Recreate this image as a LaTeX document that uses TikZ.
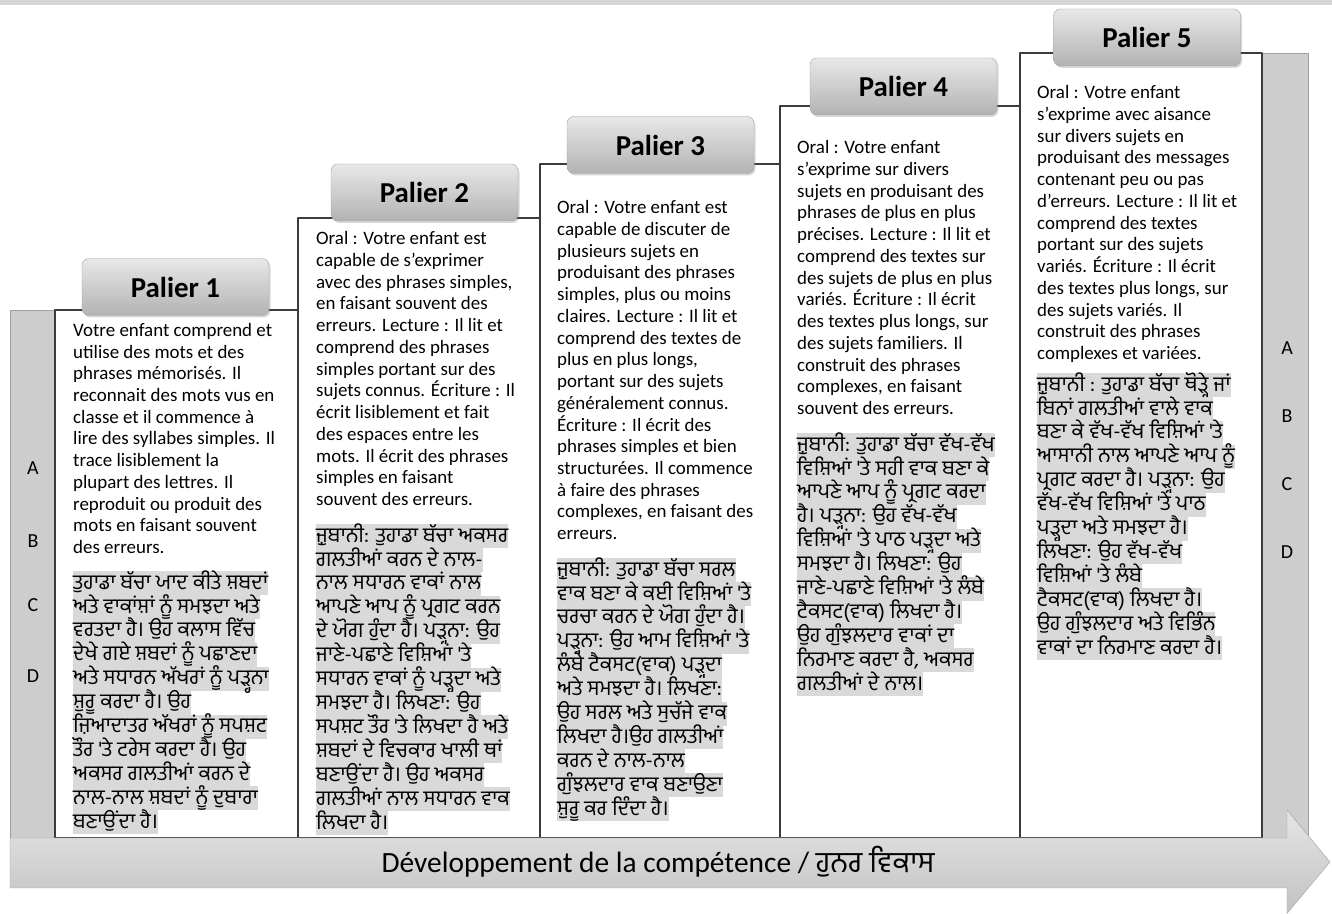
\documentclass[tikz,border=0pt]{standalone}
\usepackage{fontspec}
\setmainfont{Carlito}
\newfontfamily\pafont[Script=Gurmukhi]{Hind Jalandhar}
\usetikzlibrary{shadows}
\definecolor{hlgrey}{HTML}{D9D9D9}
\definecolor{bargrey}{HTML}{CDCDCD}
\definecolor{edgegrey}{HTML}{A0A0A0}
\definecolor{boxline}{HTML}{3C3C3C}
\setlength{\fboxsep}{0pt}
\newcommand{\hlrow}[1]{\colorbox{hlgrey}{\rule[-6pt]{0pt}{24pt}\raisebox{0pt}[14pt][4pt]{#1}}}
\begin{document}
\begin{tikzpicture}[>=latex,line join=bevel,
  colbox/.style={draw=boxline,fill=white,line width=1.1bp,inner sep=0pt},
  sidebar/.style={draw=edgegrey,fill=bargrey,inner sep=0pt},
  palier/.style={draw=edgegrey,rounded corners=7bp,top color=black!9,bottom color=black!30,
    drop shadow={opacity=0.3,shadow xshift=1.5bp,shadow yshift=-2bp},
    minimum width=187bp,minimum height=57bp,font=\fontsize{29}{32}\selectfont\bfseries},
  frtext/.style={anchor=north west,inner sep=0pt,align=left,font=\fontsize{19}{21.8}\selectfont},
  patext/.style={anchor=north west,inner sep=0pt,align=left,font=\pafont\fontsize{21}{24}\selectfont},
  abcd/.style={font=\fontsize{20}{22}\selectfont},
]
\useasboundingbox (0bp,0bp) rectangle (1332bp,914bp);
\fill[black!16] (0bp,909bp) rectangle (1332bp,914bp);
%%
\node (bar_left) at (32.5bp,340bp) [sidebar,minimum width=45bp,minimum height=528bp] {};
  \node (bar_right) at (1285bp,468.5bp) [sidebar,minimum width=46bp,minimum height=785bp] {};
  \node (col_1) at (176.5bp,340bp) [colbox,minimum width=243bp,minimum height=528bp] {};
  \node (col_2) at (419bp,386bp) [colbox,minimum width=242bp,minimum height=620bp] {};
  \node (col_3) at (660bp,413bp) [colbox,minimum width=240bp,minimum height=674bp] {};
  \node (col_4) at (900bp,442bp) [colbox,minimum width=240bp,minimum height=732bp] {};
  \node (col_5) at (1141bp,468.5bp) [colbox,minimum width=242bp,minimum height=785bp] {};
%
\node (palier_1) at (175.5bp,627bp) [palier] {Palier 1};
  \node (palier_2) at (424.5bp,721.5bp) [palier] {Palier 2};
  \node (palier_3) at (660.5bp,769bp) [palier] {Palier 3};
  \node (palier_4) at (903.5bp,827.5bp) [palier] {Palier 4};
  \node (palier_5) at (1147bp,876.5bp) [palier] {Palier 5};
%
\node (left_a) at (33bp,446bp) [abcd] {A};
  \node (left_b) at (33bp,373bp) [abcd] {B};
  \node (left_c) at (33bp,309bp) [abcd] {C};
  \node (left_d) at (33bp,238bp) [abcd] {D};
  \node (right_a) at (1287bp,566bp) [abcd] {A};
  \node (right_b) at (1287bp,498bp) [abcd] {B};
  \node (right_c) at (1287bp,430bp) [abcd] {C};
  \node (right_d) at (1287bp,362bp) [abcd] {D};
%
\node (fr_1) at (73bp,591bp) [frtext] {Votre enfant comprend et\\utilise des mots et des\\phrases mémorisés. Il\\reconnait des mots vus en\\classe et  il commence à\\lire des syllabes simples. Il\\trace lisiblement la\\plupart des lettres. Il\\reproduit ou produit des\\mots en faisant souvent\\des erreurs.};
  \node (fr_2) at (316bp,682.5bp) [frtext] {Oral : Votre enfant est\\capable de s’exprimer\\avec des phrases simples,\\en faisant souvent des\\erreurs. Lecture : Il lit et\\comprend des phrases\\simples portant sur des\\sujets connus. Écriture : Il\\écrit lisiblement et  fait\\des espaces entre les\\mots. Il écrit des phrases\\simples en faisant\\souvent des erreurs.};
  \node (fr_3) at (557bp,713.5bp) [frtext] {Oral : Votre enfant est\\capable de discuter de\\plusieurs sujets en\\produisant des phrases\\simples, plus ou moins\\claires. Lecture :  Il lit et\\comprend des textes  de\\plus en  plus longs,\\portant sur des sujets\\généralement connus.\\Écriture : Il écrit des\\phrases simples et  bien\\structurées. Il commence\\à faire des phrases\\complexes, en faisant des\\erreurs.};
  \node (fr_4) at (797bp,773.5bp) [frtext] {Oral : Votre enfant\\s’exprime sur divers\\sujets en  produisant des\\phrases de plus en plus\\précises. Lecture :  Il lit et\\comprend des textes  sur\\des sujets de plus en plus\\variés. Écriture : Il écrit\\des textes  plus longs, sur\\des sujets familiers. Il\\construit des phrases\\complexes, en faisant\\souvent des erreurs.};
  \node (fr_5) at (1037bp,828.5bp) [frtext] {Oral : Votre enfant\\s’exprime avec aisance\\sur divers sujets en\\produisant des messages\\contenant peu ou pas\\d’erreurs. Lecture : Il lit et\\comprend des textes\\portant sur des sujets\\variés. Écriture : Il écrit\\des textes  plus longs, sur\\des sujets variés. Il\\construit des phrases\\complexes et  variées.};
%
\node (pa_1) at (73bp,343bp) [patext] {\hlrow{ਤੁਹਾਡਾ ਬੱਚਾ ਯਾਦ ਕੀਤੇ ਸ਼ਬਦਾਂ}\\\hlrow{ਅਤੇ ਵਾਕਾਂਸ਼ਾਂ ਨੂੰ ਸਮਝਦਾ ਅਤੇ}\\\hlrow{ਵਰਤਦਾ ਹੈ। ਉਹ ਕਲਾਸ ਵਿੱਚ}\\\hlrow{ਦੇਖੇ ਗਏ ਸ਼ਬਦਾਂ ਨੂੰ ਪਛਾਣਦਾ}\\\hlrow{ਅਤੇ ਸਧਾਰਨ ਅੱਖਰਾਂ ਨੂੰ ਪੜ੍ਹਨਾ}\\\hlrow{ਸ਼ੁਰੂ ਕਰਦਾ ਹੈ। ਉਹ}\\\hlrow{ਜ਼ਿਆਦਾਤਰ ਅੱਖਰਾਂ ਨੂੰ ਸਪਸ਼ਟ}\\\hlrow{ਤੌਰ 'ਤੇ ਟਰੇਸ ਕਰਦਾ ਹੈ। ਉਹ}\\\hlrow{ਅਕਸਰ ਗਲਤੀਆਂ ਕਰਨ ਦੇ}\\\hlrow{ਨਾਲ-ਨਾਲ ਸ਼ਬਦਾਂ ਨੂੰ ਦੁਬਾਰਾ}\\\hlrow{ਬਣਾਉਂਦਾ ਹੈ।}};
  \node (pa_2) at (316bp,390bp) [patext] {\hlrow{ਜ਼ੁਬਾਨੀ: ਤੁਹਾਡਾ ਬੱਚਾ ਅਕਸਰ}\\\hlrow{ਗਲਤੀਆਂ ਕਰਨ ਦੇ ਨਾਲ-}\\\hlrow{ਨਾਲ ਸਧਾਰਨ ਵਾਕਾਂ ਨਾਲ}\\\hlrow{ਆਪਣੇ ਆਪ ਨੂੰ ਪ੍ਰਗਟ ਕਰਨ}\\\hlrow{ਦੇ ਯੋਗ ਹੁੰਦਾ ਹੈ। ਪੜ੍ਹਨਾ: ਉਹ}\\\hlrow{ਜਾਣੇ-ਪਛਾਣੇ ਵਿਸ਼ਿਆਂ 'ਤੇ}\\\hlrow{ਸਧਾਰਨ ਵਾਕਾਂ ਨੂੰ ਪੜ੍ਹਦਾ ਅਤੇ}\\\hlrow{ਸਮਝਦਾ ਹੈ। ਲਿਖਣਾ: ਉਹ}\\\hlrow{ਸਪਸ਼ਟ ਤੌਰ 'ਤੇ ਲਿਖਦਾ ਹੈ ਅਤੇ}\\\hlrow{ਸ਼ਬਦਾਂ ਦੇ ਵਿਚਕਾਰ ਖਾਲੀ ਥਾਂ}\\\hlrow{ਬਣਾਉਂਦਾ ਹੈ। ਉਹ ਅਕਸਰ}\\\hlrow{ਗਲਤੀਆਂ ਨਾਲ ਸਧਾਰਨ ਵਾਕ}\\\hlrow{ਲਿਖਦਾ ਹੈ।}};
  \node (pa_3) at (557bp,356bp) [patext] {\hlrow{ਜ਼ੁਬਾਨੀ: ਤੁਹਾਡਾ ਬੱਚਾ ਸਰਲ}\\\hlrow{ਵਾਕ ਬਣਾ ਕੇ ਕਈ ਵਿਸ਼ਿਆਂ 'ਤੇ}\\\hlrow{ਚਰਚਾ ਕਰਨ ਦੇ ਯੋਗ ਹੁੰਦਾ ਹੈ।}\\\hlrow{ਪੜ੍ਹਨਾ: ਉਹ ਆਮ ਵਿਸ਼ਿਆਂ 'ਤੇ}\\\hlrow{ਲੰਬੇ ਟੈਕਸਟ(ਵਾਕ) ਪੜ੍ਹਦਾ}\\\hlrow{ਅਤੇ ਸਮਝਦਾ ਹੈ। ਲਿਖਣਾ:}\\\hlrow{ਉਹ ਸਰਲ ਅਤੇ ਸੁਚੱਜੇ ਵਾਕ}\\\hlrow{ਲਿਖਦਾ ਹੈ।ਉਹ ਗਲਤੀਆਂ}\\\hlrow{ਕਰਨ ਦੇ ਨਾਲ-ਨਾਲ}\\\hlrow{ਗੁੰਝਲਦਾਰ ਵਾਕ ਬਣਾਉਣਾ}\\\hlrow{ਸ਼ੁਰੂ ਕਰ ਦਿੰਦਾ ਹੈ।}};
  \node (pa_4) at (797bp,481bp) [patext] {\hlrow{ਜ਼ੁਬਾਨੀ: ਤੁਹਾਡਾ ਬੱਚਾ ਵੱਖ-ਵੱਖ}\\\hlrow{ਵਿਸ਼ਿਆਂ 'ਤੇ ਸਹੀ ਵਾਕ  ਬਣਾ ਕੇ}\\\hlrow{ਆਪਣੇ ਆਪ ਨੂੰ ਪ੍ਰਗਟ ਕਰਦਾ}\\\hlrow{ਹੈ। ਪੜ੍ਹਨਾ: ਉਹ ਵੱਖ-ਵੱਖ}\\\hlrow{ਵਿਸ਼ਿਆਂ 'ਤੇ ਪਾਠ ਪੜ੍ਹਦਾ ਅਤੇ}\\\hlrow{ਸਮਝਦਾ ਹੈ। ਲਿਖਣਾ: ਉਹ}\\\hlrow{ਜਾਣੇ-ਪਛਾਣੇ ਵਿਸ਼ਿਆਂ 'ਤੇ ਲੰਬੇ}\\\hlrow{ਟੈਕਸਟ(ਵਾਕ) ਲਿਖਦਾ ਹੈ।}\\\hlrow{ਉਹ ਗੁੰਝਲਦਾਰ ਵਾਕਾਂ ਦਾ}\\\hlrow{ਨਿਰਮਾਣ ਕਰਦਾ ਹੈ, ਅਕਸਰ}\\\hlrow{ਗਲਤੀਆਂ ਦੇ ਨਾਲ।}};
  \node (pa_5) at (1037bp,541bp) [patext] {\hlrow{ਜ਼ੁਬਾਨੀ : ਤੁਹਾਡਾ ਬੱਚਾ ਥੋੜ੍ਹੇ ਜਾਂ}\\\hlrow{ਬਿਨਾਂ ਗਲਤੀਆਂ ਵਾਲੇ ਵਾਕ}\\\hlrow{ਬਣਾ ਕੇ ਵੱਖ-ਵੱਖ ਵਿਸ਼ਿਆਂ 'ਤੇ}\\\hlrow{ਆਸਾਨੀ ਨਾਲ ਆਪਣੇ ਆਪ ਨੂੰ}\\\hlrow{ਪ੍ਰਗਟ ਕਰਦਾ ਹੈ। ਪੜ੍ਹਨਾ: ਉਹ}\\\hlrow{ਵੱਖ-ਵੱਖ ਵਿਸ਼ਿਆਂ 'ਤੇ ਪਾਠ}\\\hlrow{ਪੜ੍ਹਦਾ ਅਤੇ ਸਮਝਦਾ ਹੈ।}\\\hlrow{ਲਿਖਣਾ: ਉਹ ਵੱਖ-ਵੱਖ}\\\hlrow{ਵਿਸ਼ਿਆਂ 'ਤੇ ਲੰਬੇ}\\\hlrow{ਟੈਕਸਟ(ਵਾਕ) ਲਿਖਦਾ ਹੈ।}\\\hlrow{ਉਹ ਗੁੰਝਲਦਾਰ ਅਤੇ ਵਿਭਿੰਨ}\\\hlrow{ਵਾਕਾਂ ਦਾ ਨਿਰਮਾਣ ਕਰਦਾ ਹੈ।}};
%
\shade [draw=edgegrey,top color=black!10,bottom color=black!24] (10bp,76bp) -- (1287bp,76bp) -- (1287bp,104bp) -- (1330bp,52bp) -- (1287bp,0.5bp) -- (1287bp,26bp) -- (10bp,26bp) -- cycle;
  \node (growth) at (658bp,52bp) [font=\fontsize{29.5}{33}\selectfont] {Développement de la compétence / {\pafont ਹੁਨਰ ਵਿਕਾਸ}};
%
\end{tikzpicture}
\end{document}
